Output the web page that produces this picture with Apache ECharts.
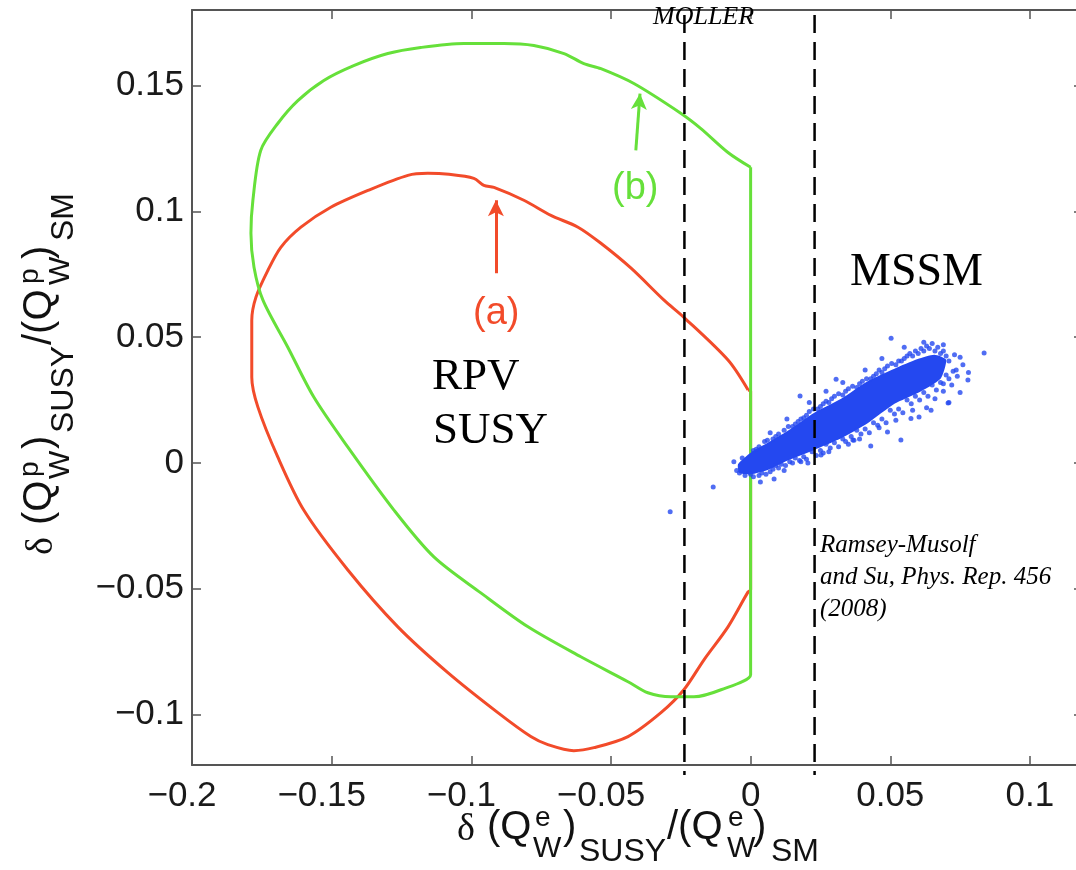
<!DOCTYPE html>
<html><head><meta charset="utf-8">
<script src="https://cdn.jsdelivr.net/npm/echarts@6/dist/echarts.min.js"></script>
<style>html,body{margin:0;padding:0;background:#fff}#c{width:1076px;height:870px}</style>
</head><body><div id="c"></div>
<script>
// ---- tick labels ----
const xTicks = [-0.2, -0.15, -0.1, -0.05, 0, 0.05, 0.1];
const yTicks = [-0.1, -0.05, 0, 0.05, 0.1, 0.15];

// ---- (a) RPV SUSY contour, red ----
const curveA = [
  [-0.0009,0.0290],[-0.0081,0.0409],[-0.0239,0.0579],[-0.0310,0.0647],[-0.0428,0.0774],
  [-0.0536,0.0873],[-0.0618,0.0937],[-0.0715,0.0984],[-0.0812,0.1044],[-0.0919,0.1095],
  [-0.0955,0.1103],[-0.0991,0.1131],[-0.1080,0.1147],[-0.1156,0.1151],[-0.1227,0.1143],
  [-0.1370,0.1083],[-0.1503,0.1016],[-0.1610,0.0937],[-0.1682,0.0857],[-0.1728,0.0766],
  [-0.1771,0.0659],[-0.1786,0.0567],[-0.1786,0.0341],[-0.1764,0.0222],[-0.1693,0.0024],
  [-0.1600,-0.0187],[-0.1442,-0.0425],[-0.1263,-0.0651],[-0.1084,-0.0833],[-0.0905,-0.0992],
  [-0.0787,-0.1087],[-0.0726,-0.1119],[-0.0633,-0.1143],[-0.0561,-0.1131],[-0.0439,-0.1087],
  [-0.0321,-0.0992],[-0.0239,-0.0901],[-0.0167,-0.0782],[-0.0081,-0.0651],[-0.0009,-0.0512],
  [0.0000,-0.0504],[0.0000,0.0285],[-0.0009,0.0290]
];

// ---- (b) RPV SUSY contour, green ----
const curveB = [
  [0.0000,0.1175],[-0.0081,0.1234],[-0.0178,0.1329],[-0.0249,0.1389],[-0.0418,0.1508],
  [-0.0536,0.1567],[-0.0597,0.1587],[-0.0668,0.1627],[-0.0776,0.1659],[-0.0883,0.1667],
  [-0.1027,0.1667],[-0.1181,0.1651],[-0.1299,0.1627],[-0.1421,0.1579],[-0.1528,0.1520],
  [-0.1621,0.1440],[-0.1693,0.1349],[-0.1754,0.1242],[-0.1782,0.1044],[-0.1789,0.0913],
  [-0.1778,0.0778],[-0.1746,0.0647],[-0.1657,0.0460],[-0.1564,0.0262],[-0.1442,0.0063],
  [-0.1277,-0.0187],[-0.1134,-0.0373],[-0.0966,-0.0516],[-0.0797,-0.0651],[-0.0608,-0.0770],
  [-0.0439,-0.0869],[-0.0368,-0.0913],[-0.0285,-0.0929],[-0.0203,-0.0929],[-0.0106,-0.0901],
  [0.0000,-0.0841],[0.0000,-0.0800],[0.0000,0.1130],[0.0000,0.1175]
];

// ---- MSSM scan: dense core outline + individual points ----
const cloudCore = [
  [-0.0045,-0.0005],[0.0001,0.0042],[0.0061,0.0080],[0.0133,0.0128],[0.0228,0.0200],
  [0.0324,0.0255],[0.0419,0.0325],[0.0515,0.0375],[0.0598,0.0413],[0.0658,0.0430],
  [0.0700,0.0410],[0.0680,0.0335],[0.0598,0.0278],[0.0515,0.0235],[0.0419,0.0158],
  [0.0324,0.0098],[0.0228,0.0052],[0.0133,0.0010],[0.0061,-0.0028],[0.0001,-0.0045],
  [-0.0040,-0.0040]
];
const cloudPoints = [
  [-0.006,0.0005],[-0.003,0.002],[0.001,0.005],[0.003,0.0065],[0.005,0.0085],[0.008,0.0095],
  [0.010,0.0115],[0.012,0.013],[0.015,0.0145],[0.017,0.0165],[0.019,0.018],[0.021,0.0205],
  [0.024,0.0215],[0.026,0.0235],[0.028,0.024],[0.030,0.0265],[0.033,0.027],[0.035,0.0295],
  [0.038,0.030],[0.040,0.0325],[0.043,0.0335],[0.045,0.0355],[0.047,0.036],[0.049,0.0385],
  [0.052,0.039],[0.054,0.0405],[0.056,0.0425],[0.058,0.0425],[0.060,0.0435],[0.062,0.0445],
  [0.064,0.0455],[0.066,0.0445],[0.068,0.0435],[0.070,0.0425],[0.071,0.0405],
  [-0.005,-0.003],[-0.002,-0.005],[0.001,-0.0055],[0.004,-0.004],[0.007,-0.0035],[0.009,-0.001],
  [0.011,-0.0005],[0.014,0.0005],[0.016,0.002],[0.019,0.0025],[0.022,0.0045],[0.025,0.005],
  [0.027,0.0075],[0.030,0.008],[0.033,0.0095],[0.036,0.0105],[0.038,0.013],[0.041,0.0135],
  [0.044,0.016],[0.047,0.0175],[0.050,0.021],[0.053,0.0215],[0.056,0.025],[0.059,0.0265],
  [0.062,0.028],[0.065,0.031],[0.068,0.032],[0.070,0.035],
  [0.002,0.0055],[0.006,0.009],[0.009,0.0105],[0.0135,0.0145],[0.016,0.0155],[0.018,0.0175],
  [0.020,0.019],[0.0225,0.0215],[0.025,0.0225],[0.027,0.0245],[0.029,0.0255],[0.0315,0.0275],
  [0.034,0.0285],[0.0365,0.0305],[0.039,0.0315],[0.0415,0.0335],[0.044,0.0345],[0.046,0.037],
  [0.048,0.0375],[0.0505,0.0395],[0.053,0.0405],[0.055,0.0415],[0.057,0.0435],[0.059,0.0445],
  [0.061,0.0455],[0.063,0.0465],[0.065,0.0475],[0.067,0.046],[0.069,0.0445],
  [-0.004,-0.004],[0.000,-0.0045],[0.003,-0.005],[0.0055,-0.0045],[0.008,-0.0025],[0.010,-0.002],
  [0.0125,-0.001],[0.015,0.0],[0.0175,0.001],[0.020,0.0015],[0.0235,0.003],[0.026,0.004],
  [0.0285,0.006],[0.0315,0.0065],[0.034,0.0085],[0.037,0.009],[0.0395,0.0115],[0.0425,0.012],
  [0.0455,0.015],[0.0485,0.016],[0.0515,0.0195],[0.0545,0.020],[0.0575,0.0235],[0.0605,0.025],
  [0.0635,0.0265],[0.0665,0.029],[0.069,0.0315],[0.071,0.0335],[0.0725,0.0365],
  [0.0035,-0.0075],[0.012,-0.003],[0.018,0.0005],[0.028,0.0045],[0.035,0.0075],[0.039,0.0095],
  [0.046,0.014],[0.052,0.017],[0.058,0.021],[0.063,0.022],[0.066,0.0255],[0.069,0.0285],
  [0.072,0.031],[0.074,0.0345],[0.076,0.039],[0.073,0.043],[0.069,0.047],[0.062,0.048],
  [0.055,0.046],[0.047,0.0415],[0.041,0.037],[0.033,0.032],[0.027,0.0285],[0.021,0.024],
  [0.013,0.0175],[0.007,0.012],
  [0.0503,0.0496],[0.0836,0.0437],[0.078,0.036],[0.0778,0.033],[0.075,0.028],[0.0707,0.0238],
  [0.0646,0.021],[0.0538,0.0091],[0.0603,0.0183],[0.0574,0.0177],[0.049,0.0123],[0.043,0.0068],
  [0.0366,0.0091],[0.0252,0.0032],[0.0205,0.0],[0.0084,-0.0064],[-0.0134,-0.0095],
  [-0.0288,-0.0194],[0.0177,0.0266],[0.0306,0.0333],[0.075,0.042],[0.0736,0.037],[0.071,0.024]
];

// ---- reference lines and arrows ----
const mollerX = -0.0237;
const mssmEdgeX = 0.0229;
const vLineY = [0.178, -0.124];
const arrowA = [[-0.0912,0.0754],[-0.0912,0.1044]];
const arrowB = [[-0.0411,0.1242],[-0.0396,0.1468]];

const RED = '#f24b2a', GREEN = '#66e03a', BLUE = '#2448f0';
const SANS = '"Liberation Sans", Arial, Helvetica, sans-serif';
const SERIF = '"Liberation Serif", "Times New Roman", serif';
const AXC = '#555';

function fmt(v) {
  let s = String(Number(v.toFixed(3)));
  return s.replace('-', '\u2212');
}
function isTick(arr, v) { return arr.some(t => Math.abs(t - v) < 1e-9); }

function titlePieces(sup) {
  const P = [
    {t:'\u03b4', dx:0, dy:2, f:'38px ' + SERIF},
    {t:'(Q', dx:30, dy:0, f:'40px ' + SANS},
    {t:sup, dx:78, dy:-10, f:'28px ' + SANS},
    {t:'W', dx:76, dy:21, f:'30px ' + SANS},
    {t:')', dx:106, dy:0, f:'40px ' + SANS},
    {t:'SUSY', dx:122, dy:24, f:'32px ' + SANS},
    {t:'/(Q', dx:210, dy:0, f:'40px ' + SANS},
    {t:sup, dx:271, dy:-10, f:'28px ' + SANS},
    {t:'W', dx:270, dy:21, f:'30px ' + SANS},
    {t:')', dx:296, dy:0, f:'40px ' + SANS},
    {t:'SM', dx:314, dy:24, f:'32px ' + SANS}
  ];
  return P.map(p => ({type:'text', x:p.dx, y:p.dy,
    style:{text:p.t, font:p.f, fill:'#111', align:'left', verticalAlign:'middle',
           textAlign:'left', textVerticalAlign:'middle'}}));
}
function txt(x, y, text, font, fill) {
  return {type:'text', x:x, y:y, z:100,
    style:{text:text, font:font, fill:fill || '#000', align:'left', verticalAlign:'middle',
           textAlign:'left', textVerticalAlign:'middle'}};
}

const chart = echarts.init(document.getElementById('c'), null, {renderer:'canvas'});
const lineAx = {onZero:false, lineStyle:{color:AXC, width:2}};
const tickIn = {show:true, inside:true, length:9, lineStyle:{color:AXC, width:1.5}};

chart.setOption({
  animation:false,
  backgroundColor:'#fff',
  grid:{left:192, width:891, top:10, height:755, containLabel:false, outerBoundsMode:'none'},
  xAxis:[
    {type:'value', min:-0.2, max:0.119, interval:0.05, position:'bottom',
     axisLine:lineAx, axisTick:tickIn, splitLine:{show:false},
     axisLabel:{margin:14, color:'#1a1a1a', fontSize:35, fontFamily:SANS, showMaxLabel:false,
       formatter:function(v){ if(!isTick(xTicks,v)) return ''; return v<0 ? '{n|'+fmt(v)+'}' : fmt(v); },
       rich:{n:{padding:[0,20,0,0], fontSize:35, fontFamily:SANS, color:'#1a1a1a'}}}},
    {type:'value', min:-0.2, max:0.119, interval:0.05, position:'top',
     axisLine:lineAx, axisTick:tickIn, axisLabel:{show:false}, splitLine:{show:false}}
  ],
  yAxis:[
    {type:'value', min:-0.12, max:0.18, splitNumber:6, position:'left',
     axisLine:lineAx, axisTick:tickIn, splitLine:{show:false},
     axisLabel:{margin:8, color:'#1a1a1a', fontSize:35, fontFamily:SANS, showMinLabel:false, showMaxLabel:false,
       formatter:function(v){ return isTick(yTicks,v) ? fmt(v) : ''; }}},
    {type:'value', min:-0.12, max:0.18, splitNumber:6, position:'right',
     axisLine:{show:false, onZero:false}, axisTick:tickIn, axisLabel:{show:false}, splitLine:{show:false}}
  ],
  series:[
    {type:'line', name:'(a)', data:curveA, symbol:'none', smooth:0.3, z:3,
     lineStyle:{color:RED, width:3},
     markLine:{silent:true, symbol:['none','arrow'], symbolSize:[12,16], label:{show:false},
       lineStyle:{color:RED, width:3, type:'solid'},
       data:[[{coord:arrowA[0]},{coord:arrowA[1]}]]}},
    {type:'line', name:'(b)', data:curveB, symbol:'none', smooth:0.3, z:4,
     lineStyle:{color:GREEN, width:3},
     markLine:{silent:true, symbol:['none','arrow'], symbolSize:[12,16], label:{show:false},
       lineStyle:{color:GREEN, width:3, type:'solid'},
       data:[[{coord:arrowB[0]},{coord:arrowB[1]}]]}},
    {type:'custom', name:'MSSM core', z:5, data:cloudCore,
     renderItem:function(params, api){
       if (params.dataIndex !== 0) return null;
       const pts = cloudCore.map(p => api.coord(p));
       return {type:'polygon', shape:{points:pts, smooth:0.2}, style:{fill:BLUE}};
     }},
    {type:'scatter', name:'MSSM', data:cloudPoints, symbol:'circle', symbolSize:5, z:6,
     itemStyle:{color:BLUE}},
    {type:'line', data:[[mollerX, vLineY[0]],[mollerX, vLineY[1]]], symbol:'none', clip:false, z:8,
     lineStyle:{color:'#000', width:2.5, type:[18,9]}},
    {type:'line', data:[[mssmEdgeX, vLineY[0]],[mssmEdgeX, vLineY[1]]], symbol:'none', clip:false, z:8,
     lineStyle:{color:'#000', width:2.5, type:[18,9]}}
  ],
  graphic:[
    {type:'group', x:457, y:828, children:titlePieces('e')},
    {type:'group', x:40, y:555, rotation:Math.PI/2, children:titlePieces('p')},
    txt(653, 17, 'MOLLER', 'italic 26px ' + SERIF),
    txt(850, 273, 'MSSM', '46px ' + SERIF),
    txt(432, 377, 'RPV', '45px ' + SERIF),
    txt(433, 431, 'SUSY', '45px ' + SERIF),
    txt(473, 314, '(a)', '38px ' + SANS, RED),
    txt(612, 189, '(b)', '38px ' + SANS, GREEN),
    txt(820, 545, 'Ramsey-Musolf', 'italic 25px ' + SERIF),
    txt(820, 577, 'and Su, Phys. Rep. 456', 'italic 25px ' + SERIF),
    txt(820, 609, '(2008)', 'italic 25px ' + SERIF)
  ]
});
</script></body></html>
